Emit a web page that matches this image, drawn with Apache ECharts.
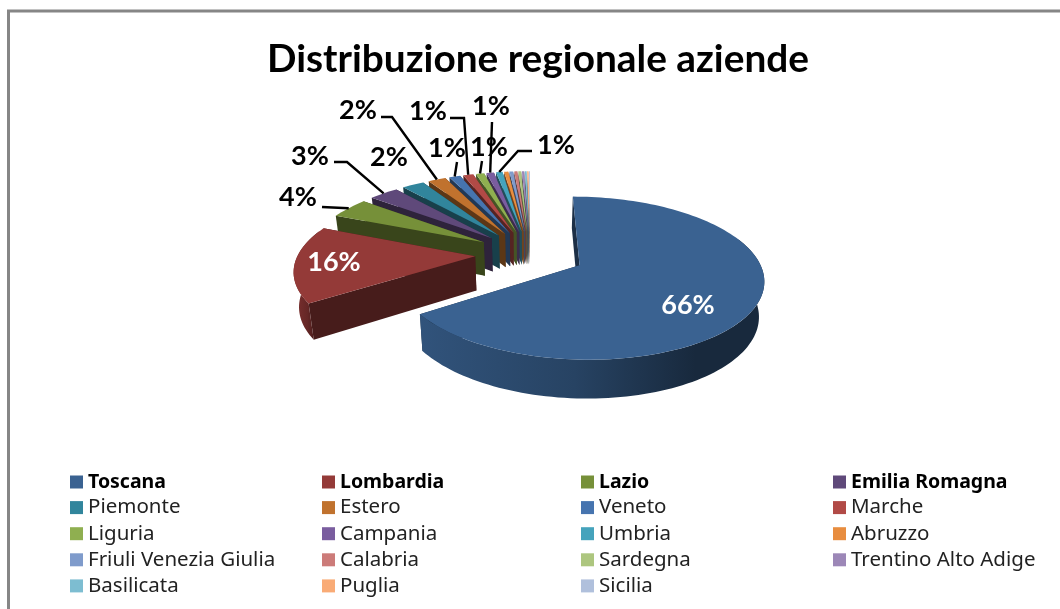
<!DOCTYPE html>
<html><head><meta charset="utf-8">
<style>html,body{margin:0;padding:0;background:#fff}#c{width:1060px;height:609px}</style>
<script src="https://cdn.jsdelivr.net/npm/echarts@6/dist/echarts.min.js"></script>
</head><body><div id="c"></div>
<script>
const chartTitle = 'Distribuzione regionale aziende';
const regions = ['Toscana','Lombardia','Lazio','Emilia Romagna','Piemonte','Estero','Veneto','Marche','Liguria','Campania','Umbria','Abruzzo','Friuli Venezia Giulia','Calabria','Sardegna','Trentino Alto Adige','Basilicata','Puglia','Sicilia'];
const shares = [65.6,15.8,4.3,3.2,2.4,1.9,1.2,1.1,0.9,0.8,0.7,0.45,0.4,0.35,0.3,0.25,0.2,0.15,0.1];
const colors = ['#3A6291','#943A38','#769039','#5F497A','#31859C','#C0722E','#4674AF','#B14A46','#8FAF50','#7A5D9F','#45A3BC','#E88D3F','#7F9BCB','#CC7B79','#ADC67F','#9C87B7','#7DBDD1','#F9AB76','#B0C0DC'];
const legendColumns = [[0,4,8,12,16],[1,5,9,13,17],[2,6,10,14,18],[3,7,11,15]];

// view geometry
const CX=530, CY=254, RX=177, RY=76, K=0.154, Q=0.977, DEPTH=34, EXPLODE=0.31;
const labelFont='Lato';
// label placement: centre of the text, then optional elbow points of the leader (it ends on the slice)
const labelPlace = {
  0:{c:[688,305],inside:true}, 1:{c:[334,262],inside:true},
  2:{c:[298,197],lead:[[322,207]]},
  3:{c:[310,156],lead:[[334,162],[347,162]]},
  4:{c:[389,157]},
  5:{c:[358,110],lead:[[381,117],[392,117]]},
  6:{c:[447,148],lead:[[457,162]]},
  7:{c:[428,111],lead:[[450,118],[464,118]]},
  8:{c:[489,147],lead:[[482,161]]},
  9:{c:[491,106],lead:[[492,122]]},
  10:{c:[556,145],lead:[[532,151],[518,151]]}
};

const total = shares.reduce((a,b)=>a+b,0);
const spans = []; let acc=0;
shares.forEach(v=>{const a0=acc/total*Math.PI*2; acc+=v; spans.push([a0,acc/total*Math.PI*2]);});

function proj(u,v,down){
  const s=1/(1-K*v); let x=CX+RX*u*s, y=CY+RY*v*s;
  if(down){x=CX+(x-CX)*Q; y=CY+(y-CY)*Q+DEPTH*s;}
  return [x,y];
}
function shade(hex,f){
  const n=parseInt(hex.slice(1),16);
  const c=[n>>16,(n>>8)&255,n&255].map(x=>Math.round(x*f));
  return 'rgb('+c.join(',')+')';
}
function renderSlice(params,api){
  const i=api.value(1), base=colors[i];
  const [a0,a1]=spans[i], mid=(a0+a1)/2;
  const ou=EXPLODE*Math.sin(mid), ov=-EXPLODE*Math.cos(mid);
  const P=(a,d)=>proj(ou+Math.sin(a),ov-Math.cos(a),d);
  const apex=[ou,ov];
  const arc=(s,e,d)=>{const n=Math.max(2,Math.ceil((e-s)/0.03)),r=[];for(let k=0;k<=n;k++)r.push(P(s+(e-s)*k/n,d));return r;};
  const kids=[];
  const wall=(a)=>({type:'polygon',shape:{points:[proj(apex[0],apex[1],false),P(a,false),P(a,true),proj(apex[0],apex[1],true)]},style:{fill:shade(base,0.48)}});
  kids.push(wall(a1)); kids.push(wall(a0));
  const fs=Math.max(a0,70*Math.PI/180), fe=Math.min(a1,290*Math.PI/180);
  if(fe>fs){
    const top=arc(fs,fe,false), bot=arc(fs,fe,true).reverse();
    kids.push({type:'polygon',shape:{points:top.concat(bot)},style:{fill:new echarts.graphic.LinearGradient(0,0,1,0,[
      {offset:0,color:shade(base,0.85)},{offset:0.45,color:shade(base,0.68)},
      {offset:0.8,color:shade(base,0.42)},{offset:1,color:shade(base,0.42)}
    ])}});
  }
  kids.push({type:'polygon',shape:{points:[proj(apex[0],apex[1],false)].concat(arc(a0,a1,false))},style:{fill:base}});
  const place=labelPlace[i];
  if(place){
    if(place.lead){
      const pts=place.lead.concat([P(mid,false)]);
      kids.push({type:'polyline',shape:{points:pts},style:{stroke:'#000',lineWidth:2.4,fill:null}});
    }
    kids.push({type:'text',style:{text:Math.round(api.value(0)/total*100)+'%',x:place.c[0],y:place.c[1],
      align:'center',verticalAlign:'middle',fontFamily:labelFont,fontWeight:'bold',fontSize:27,fill:place.inside?'#fff':'#000'}});
  }
  return {type:'group',children:kids};
}

const series=regions.map((name,i)=>({
  type:'custom',name,coordinateSystem:'none',z:2+regions.length-i,silent:true,
  itemStyle:{color:colors[i]},renderItem:renderSlice,data:[[shares[i],i]]
}));
const legendX=[70,322,581,833];
const legend=legendColumns.map((col,c)=>({
  orient:'vertical',left:legendX[c],top:472,padding:0,itemGap:5.1,itemWidth:13,itemHeight:13,icon:'rect',
  textStyle:{fontFamily:'Noto Sans',fontSize:20.5,color:'#222'},
  data:col.map(i=>i<4?{name:regions[i],textStyle:{fontWeight:'bold',fontSize:19.5,color:'#000'}}:{name:regions[i]})
}));
const chart=echarts.init(document.getElementById('c'),null,{renderer:'canvas'});
chart.setOption({
  animation:false,backgroundColor:'#fff',
  title:{text:chartTitle,left:538,textAlign:'center',top:40,padding:0,itemGap:0,
    textStyle:{fontFamily:labelFont,fontWeight:'bold',fontSize:38.8,color:'#000'}},
  legend,series,
  graphic:[{type:'rect',silent:true,z:0,shape:{x:8.5,y:11,width:1100,height:700},style:{fill:null,stroke:'#868686',lineWidth:3}}]
});
</script></body></html>
